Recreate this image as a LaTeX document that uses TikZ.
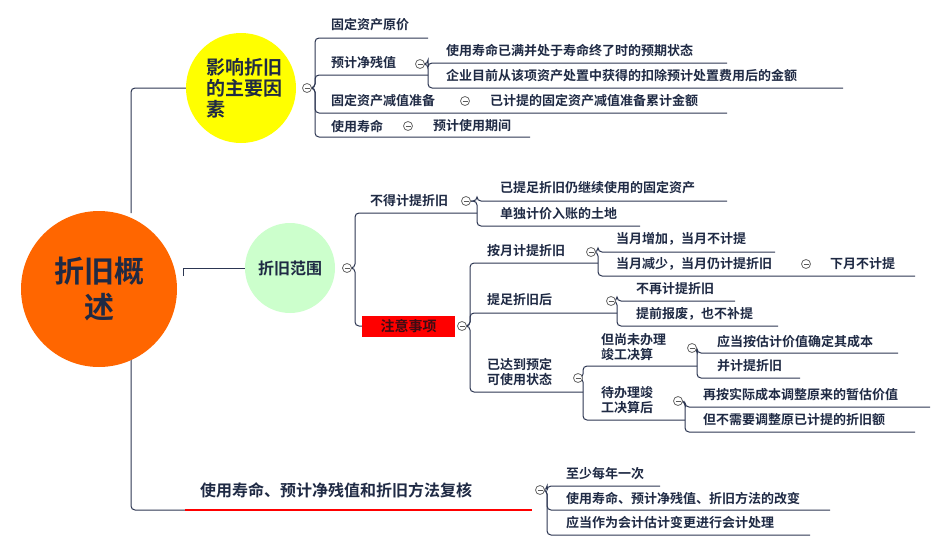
\documentclass[tikz,border=0pt]{standalone}
\usepackage{fontspec}
\setmainfont{Noto Sans CJK SC}[BoldFont={Noto Sans CJK SC Bold}]
\definecolor{ink}{HTML}{1F2A44}
\definecolor{ln}{HTML}{2C3652}
\definecolor{orng}{HTML}{FF6600}
\definecolor{yel}{HTML}{FFFF00}
\definecolor{grn}{HTML}{CCFFCC}
\newcommand\colps[2]{\draw[gray!80!black,fill=white,line width=0.8pt] (#1,#2) circle (4.5);\draw[gray!70!black,line width=0.8pt] (#1-2.5,#2) -- (#1+2.5,#2);}
\newcommand\br[5]{\draw[ln,line width=1pt,rounded corners=4] (#1,#2) -- (#3,#2) -- (#3,#4) -- (#5,#4);}
\begin{document}
\begin{tikzpicture}[x=1pt,y=-1pt,
  txt/.style={anchor=west,inner sep=0,text=ink,font=\fontsize{13}{15}\selectfont\bfseries},
  txtc/.style={inner sep=0,text=ink,align=left,font=\fontsize{13}{15}\selectfont\bfseries},
  ul/.style={ln,line width=1pt}]
\useasboundingbox (0,0) rectangle (946,552);
% root connectors
\draw[ul,rounded corners=4] (131,213) -- (131,88) -- (186,88);
\draw[ul,rounded corners=4] (131,360) -- (131,510) -- (185,510);
\draw[ul] (183,276) -- (183,268) -- (245,268);
\node[circle,fill=orng,minimum size=156,inner sep=0] (root) at (99,289) {};
\node[text=ink,align=center,font=\fontsize{30}{36}\selectfont\bfseries] at (99,289) {折旧概\\述};
% factors
\node[circle,fill=yel,minimum size=110,inner sep=0] (yc) at (241,88) {};
\node[anchor=west,text=ink,align=left,font=\fontsize{19}{21}\selectfont\bfseries] at (203,88) {影响折旧\\的主要因\\素};
\br{312}{88}{315}{38}{428}
\br{312}{88}{315}{75}{428}
\br{312}{88}{315}{113}{727}
\br{312}{88}{315}{137}{530}
\colps{307}{88}
\node[txt] at (331,25) {固定资产原价};
\node[txt] at (331,63) {预计净残值};
\br{425}{64}{428}{63}{727}
\br{425}{64}{428}{88}{843}
\colps{420}{64}
\node[txt] at (446,51) {使用寿命已满并处于寿命终了时的预期状态};
\node[txt] at (446,76) {企业目前从该项资产处置中获得的扣除预计处置费用后的金额};
\node[txt] at (331,101) {固定资产减值准备};
\colps{465}{101}
\node[txt] at (490,101) {已计提的固定资产减值准备累计金额};
\node[txt] at (331,126) {使用寿命};
\colps{408}{126}
\node[txt] at (433,126) {预计使用期间};
% scope
\node[circle,fill=grn,minimum size=90,inner sep=0] (gc) at (290,268) {};
\node[text=ink,font=\fontsize{16}{18}\selectfont\bfseries] at (290,268) {折旧范围};
\br{342}{268}{355}{213}{477}
\br{342}{268}{355}{326}{362}
\colps{347}{268}
\node[txt] at (370,201) {不得计提折旧};
\br{471}{201}{477}{201}{727}
\br{471}{201}{477}{226}{640}
\colps{466}{201}
\node[txt] at (500,188) {已提足折旧仍继续使用的固定资产};
\node[txt] at (500,214) {单独计价入账的土地};
\node[fill=red,minimum width=93,minimum height=21,inner sep=0,text=ink!60!red!50!black,font=\fontsize{14}{16}\selectfont\bfseries] (zy) at (408.5,326) {注意事项};
\br{467}{326}{470}{263}{598}
\br{467}{326}{470}{313}{617}
\br{467}{326}{470}{392}{583}
\colps{462}{326}
\node[txt] at (487,251) {按月计提折旧};
\br{596}{252}{598}{252}{775}
\br{596}{252}{598}{276}{915}
\colps{591}{252}
\node[txt] at (616,239) {当月增加，当月不计提};
\node[txt] at (616,264) {当月减少，当月仍计提折旧};
\colps{806}{264}
\node[txt] at (830,264) {下月不计提};
\node[txt] at (487,300) {提足折旧后};
\br{615}{301}{617}{301}{735}
\br{615}{301}{617}{326}{778}
\colps{611}{301}
\node[txt] at (636,289) {不再计提折旧};
\node[txt] at (636,314) {提前报废，也不补提};
\node[txtc,anchor=west] at (487,372) {已达到预定\\可使用状态};
\br{582}{378}{583}{366}{697}
\br{582}{378}{583}{420}{685}
\colps{578}{378}
\node[txtc,anchor=west] at (601,347) {但尚未办理\\竣工决算};
\br{696}{348}{697}{353}{898}
\br{696}{348}{697}{378}{800}
\colps{692}{348}
\node[txt] at (717,342) {应当按估计价值确定其成本};
\node[txt] at (717,366) {并计提折旧};
\node[txtc,anchor=west] at (601,400) {待办理竣\\工决算后};
\br{683}{401}{685}{407}{930}
\br{683}{401}{685}{432}{915}
\colps{678}{401}
\node[txt] at (703,395) {再按实际成本调整原来的暂估价值};
\node[txt] at (703,420) {但不需要调整原已计提的折旧额};
% review
\node[text=ink,anchor=west,inner sep=0,font=\fontsize{16}{18}\selectfont\bfseries] at (200,490) {使用寿命、预计净残值和折旧方法复核};
\draw[red,line width=2pt] (185,510) -- (532,510);
\br{544}{490}{547}{486}{660}
\br{544}{490}{547}{510}{830}
\br{544}{490}{547}{535}{810}
\colps{540}{490}
\node[txt] at (566,474) {至少每年一次};
\node[txt] at (566,498) {使用寿命、预计净残值、折旧方法的改变};
\node[txt] at (566,523) {应当作为会计估计变更进行会计处理};
\end{tikzpicture}
\end{document}
